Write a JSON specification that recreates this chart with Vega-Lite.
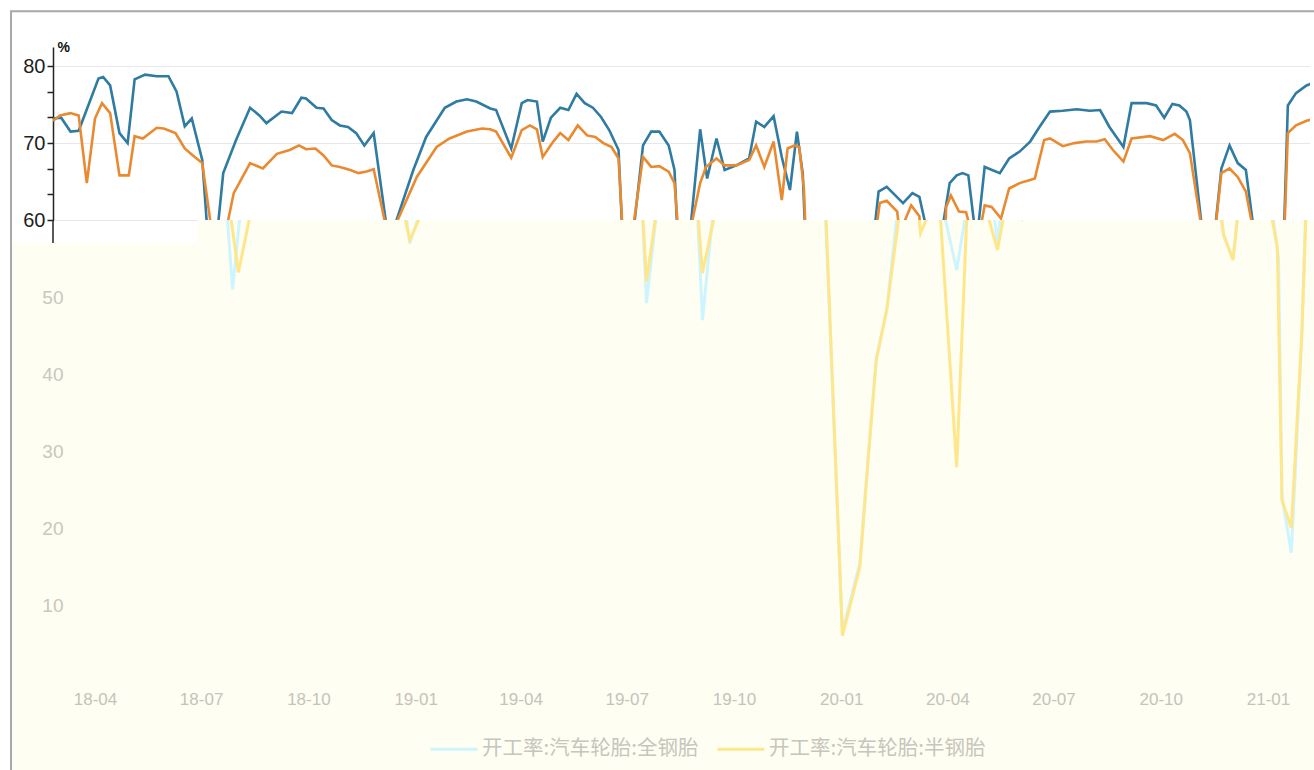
{
  "$schema": "https://vega.github.io/schema/vega-lite/v6.json",
  "background": "white",
  "padding": {"left": 10, "top": 10, "right": 0, "bottom": 0},
  "bounds": "flush",
  "spacing": 0,
  "config": {"view": {"stroke": null}, "font": "Liberation Sans"},
  "data": {"values": [
    {"d":"2018-03-14","s":"全钢胎","v":73.2},{"d":"2018-03-21","s":"全钢胎","v":73.3},{"d":"2018-03-29","s":"全钢胎","v":71.5},{"d":"2018-04-05","s":"全钢胎","v":71.6},{"d":"2018-04-10","s":"全钢胎","v":73.6},{"d":"2018-04-22","s":"全钢胎","v":78.4},{"d":"2018-04-26","s":"全钢胎","v":78.6},{"d":"2018-05-02","s":"全钢胎","v":77.5},{"d":"2018-05-10","s":"全钢胎","v":71.3},{"d":"2018-05-17","s":"全钢胎","v":70.0},{"d":"2018-05-23","s":"全钢胎","v":78.3},{"d":"2018-06-01","s":"全钢胎","v":78.9},{"d":"2018-06-11","s":"全钢胎","v":78.7},{"d":"2018-06-21","s":"全钢胎","v":78.7},{"d":"2018-06-28","s":"全钢胎","v":76.7},{"d":"2018-07-05","s":"全钢胎","v":72.2},{"d":"2018-07-11","s":"全钢胎","v":73.2},{"d":"2018-07-20","s":"全钢胎","v":67.8},{"d":"2018-07-28","s":"全钢胎","v":51.0},{"d":"2018-08-07","s":"全钢胎","v":66.1},{"d":"2018-08-18","s":"全钢胎","v":70.4},{"d":"2018-08-30","s":"全钢胎","v":74.6},{"d":"2018-09-07","s":"全钢胎","v":73.6},{"d":"2018-09-13","s":"全钢胎","v":72.6},{"d":"2018-09-26","s":"全钢胎","v":74.1},{"d":"2018-10-05","s":"全钢胎","v":73.9},{"d":"2018-10-13","s":"全钢胎","v":75.9},{"d":"2018-10-17","s":"全钢胎","v":75.8},{"d":"2018-10-26","s":"全钢胎","v":74.6},{"d":"2018-11-01","s":"全钢胎","v":74.5},{"d":"2018-11-08","s":"全钢胎","v":73.0},{"d":"2018-11-15","s":"全钢胎","v":72.3},{"d":"2018-11-22","s":"全钢胎","v":72.1},{"d":"2018-11-29","s":"全钢胎","v":71.3},{"d":"2018-12-06","s":"全钢胎","v":69.7},{"d":"2018-12-14","s":"全钢胎","v":71.3},{"d":"2018-12-27","s":"全钢胎","v":57.0},{"d":"2019-01-17","s":"全钢胎","v":66.5},{"d":"2019-01-28","s":"全钢胎","v":70.8},{"d":"2019-02-13","s":"全钢胎","v":74.6},{"d":"2019-02-23","s":"全钢胎","v":75.4},{"d":"2019-03-04","s":"全钢胎","v":75.7},{"d":"2019-03-12","s":"全钢胎","v":75.4},{"d":"2019-03-24","s":"全钢胎","v":74.5},{"d":"2019-03-29","s":"全钢胎","v":74.3},{"d":"2019-04-11","s":"全钢胎","v":69.3},{"d":"2019-04-20","s":"全钢胎","v":75.2},{"d":"2019-04-25","s":"全钢胎","v":75.6},{"d":"2019-05-03","s":"全钢胎","v":75.4},{"d":"2019-05-08","s":"全钢胎","v":70.2},{"d":"2019-05-15","s":"全钢胎","v":73.3},{"d":"2019-05-23","s":"全钢胎","v":74.6},{"d":"2019-05-30","s":"全钢胎","v":74.3},{"d":"2019-06-06","s":"全钢胎","v":76.4},{"d":"2019-06-13","s":"全钢胎","v":75.2},{"d":"2019-06-20","s":"全钢胎","v":74.6},{"d":"2019-06-27","s":"全钢胎","v":73.4},{"d":"2019-07-04","s":"全钢胎","v":71.7},{"d":"2019-07-12","s":"全钢胎","v":69.1},{"d":"2019-07-18","s":"全钢胎","v":49.2},{"d":"2019-08-02","s":"全钢胎","v":69.7},{"d":"2019-08-09","s":"全钢胎","v":71.5},{"d":"2019-08-16","s":"全钢胎","v":71.5},{"d":"2019-08-24","s":"全钢胎","v":69.7},{"d":"2019-08-29","s":"全钢胎","v":66.5},{"d":"2019-09-04","s":"全钢胎","v":47.0},{"d":"2019-09-20","s":"全钢胎","v":71.8},{"d":"2019-09-26","s":"全钢胎","v":65.4},{"d":"2019-10-04","s":"全钢胎","v":70.6},{"d":"2019-10-11","s":"全钢胎","v":66.5},{"d":"2019-10-21","s":"全钢胎","v":67.1},{"d":"2019-11-01","s":"全钢胎","v":68.0},{"d":"2019-11-07","s":"全钢胎","v":72.8},{"d":"2019-11-14","s":"全钢胎","v":72.1},{"d":"2019-11-22","s":"全钢胎","v":73.5},{"d":"2019-11-29","s":"全钢胎","v":68.2},{"d":"2019-12-06","s":"全钢胎","v":63.9},{"d":"2019-12-12","s":"全钢胎","v":71.5},{"d":"2019-12-17","s":"全钢胎","v":66.0},{"d":"2020-01-02","s":"全钢胎","v":6.5},{"d":"2020-01-17","s":"全钢胎","v":15.5},{"d":"2020-01-24","s":"全钢胎","v":29.0},{"d":"2020-01-31","s":"全钢胎","v":42.0},{"d":"2020-02-09","s":"全钢胎","v":48.3},{"d":"2020-02-20","s":"全钢胎","v":63.7},{"d":"2020-02-27","s":"全钢胎","v":64.3},{"d":"2020-03-12","s":"全钢胎","v":62.2},{"d":"2020-03-20","s":"全钢胎","v":63.5},{"d":"2020-03-26","s":"全钢胎","v":63.0},{"d":"2020-04-09","s":"全钢胎","v":53.5},{"d":"2020-04-21","s":"全钢胎","v":64.8},{"d":"2020-04-27","s":"全钢胎","v":65.8},{"d":"2020-05-02","s":"全钢胎","v":66.1},{"d":"2020-05-07","s":"全钢胎","v":65.8},{"d":"2020-05-14","s":"全钢胎","v":57.0},{"d":"2020-05-21","s":"全钢胎","v":66.9},{"d":"2020-06-03","s":"全钢胎","v":66.1},{"d":"2020-06-11","s":"全钢胎","v":68.0},{"d":"2020-06-20","s":"全钢胎","v":68.9},{"d":"2020-06-29","s":"全钢胎","v":70.2},{"d":"2020-07-07","s":"全钢胎","v":72.1},{"d":"2020-07-16","s":"全钢胎","v":74.1},{"d":"2020-07-27","s":"全钢胎","v":74.2},{"d":"2020-08-08","s":"全钢胎","v":74.4},{"d":"2020-08-19","s":"全钢胎","v":74.2},{"d":"2020-08-28","s":"全钢胎","v":74.3},{"d":"2020-09-05","s":"全钢胎","v":72.1},{"d":"2020-09-17","s":"全钢胎","v":69.5},{"d":"2020-09-24","s":"全钢胎","v":75.2},{"d":"2020-10-07","s":"全钢胎","v":75.2},{"d":"2020-10-15","s":"全钢胎","v":74.9},{"d":"2020-10-22","s":"全钢胎","v":73.3},{"d":"2020-10-29","s":"全钢胎","v":75.1},{"d":"2020-11-04","s":"全钢胎","v":74.9},{"d":"2020-11-10","s":"全钢胎","v":74.1},{"d":"2020-11-13","s":"全钢胎","v":73.0},{"d":"2020-11-24","s":"全钢胎","v":58.0},{"d":"2020-12-02","s":"全钢胎","v":55.0},{"d":"2020-12-10","s":"全钢胎","v":66.7},{"d":"2020-12-17","s":"全钢胎","v":69.7},{"d":"2020-12-24","s":"全钢胎","v":67.4},{"d":"2020-12-31","s":"全钢胎","v":66.5},{"d":"2021-01-10","s":"全钢胎","v":55.0},{"d":"2021-01-13","s":"全钢胎","v":24.0},{"d":"2021-01-21","s":"全钢胎","v":16.8},{"d":"2021-01-30","s":"全钢胎","v":45.0},{"d":"2021-02-05","s":"全钢胎","v":74.9},{"d":"2021-02-12","s":"全钢胎","v":76.5},{"d":"2021-02-21","s":"全钢胎","v":77.5},{"d":"2021-02-26","s":"全钢胎","v":77.8},
    {"d":"2018-03-14","s":"半钢胎","v":72.9},{"d":"2018-03-20","s":"半钢胎","v":73.6},{"d":"2018-03-29","s":"半钢胎","v":73.9},{"d":"2018-04-05","s":"半钢胎","v":73.6},{"d":"2018-04-12","s":"半钢胎","v":64.8},{"d":"2018-04-19","s":"半钢胎","v":73.2},{"d":"2018-04-25","s":"半钢胎","v":75.2},{"d":"2018-05-02","s":"半钢胎","v":73.9},{"d":"2018-05-10","s":"半钢胎","v":65.8},{"d":"2018-05-18","s":"半钢胎","v":65.8},{"d":"2018-05-23","s":"半钢胎","v":70.9},{"d":"2018-05-30","s":"半钢胎","v":70.6},{"d":"2018-06-11","s":"半钢胎","v":72.0},{"d":"2018-06-17","s":"半钢胎","v":71.9},{"d":"2018-06-27","s":"半钢胎","v":71.3},{"d":"2018-07-05","s":"半钢胎","v":69.3},{"d":"2018-07-12","s":"半钢胎","v":68.4},{"d":"2018-07-20","s":"半钢胎","v":67.4},{"d":"2018-08-02","s":"半钢胎","v":53.2},{"d":"2018-08-16","s":"半钢胎","v":63.5},{"d":"2018-08-30","s":"半钢胎","v":67.4},{"d":"2018-09-10","s":"半钢胎","v":66.7},{"d":"2018-09-22","s":"半钢胎","v":68.6},{"d":"2018-10-03","s":"半钢胎","v":69.1},{"d":"2018-10-11","s":"半钢胎","v":69.7},{"d":"2018-10-17","s":"半钢胎","v":69.2},{"d":"2018-10-25","s":"半钢胎","v":69.3},{"d":"2018-11-01","s":"半钢胎","v":68.4},{"d":"2018-11-08","s":"半钢胎","v":67.1},{"d":"2018-11-15","s":"半钢胎","v":66.9},{"d":"2018-11-24","s":"半钢胎","v":66.5},{"d":"2018-12-01","s":"半钢胎","v":66.1},{"d":"2018-12-08","s":"半钢胎","v":66.3},{"d":"2018-12-14","s":"半钢胎","v":66.6},{"d":"2018-12-27","s":"半钢胎","v":57.4},{"d":"2019-01-20","s":"半钢胎","v":65.6},{"d":"2019-02-06","s":"半钢胎","v":69.5},{"d":"2019-02-17","s":"半钢胎","v":70.6},{"d":"2019-03-04","s":"半钢胎","v":71.5},{"d":"2019-03-17","s":"半钢胎","v":71.9},{"d":"2019-03-24","s":"半钢胎","v":71.8},{"d":"2019-03-29","s":"半钢胎","v":71.5},{"d":"2019-04-11","s":"半钢胎","v":68.1},{"d":"2019-04-20","s":"半钢胎","v":71.7},{"d":"2019-04-27","s":"半钢胎","v":72.3},{"d":"2019-05-03","s":"半钢胎","v":71.8},{"d":"2019-05-08","s":"半钢胎","v":68.2},{"d":"2019-05-17","s":"半钢胎","v":70.2},{"d":"2019-05-23","s":"半钢胎","v":71.3},{"d":"2019-05-30","s":"半钢胎","v":70.4},{"d":"2019-06-07","s":"半钢胎","v":72.3},{"d":"2019-06-15","s":"半钢胎","v":71.0},{"d":"2019-06-22","s":"半钢胎","v":70.8},{"d":"2019-06-29","s":"半钢胎","v":70.0},{"d":"2019-07-06","s":"半钢胎","v":69.5},{"d":"2019-07-12","s":"半钢胎","v":68.0},{"d":"2019-07-18","s":"半钢胎","v":52.0},{"d":"2019-08-02","s":"半钢胎","v":68.2},{"d":"2019-08-09","s":"半钢胎","v":66.9},{"d":"2019-08-16","s":"半钢胎","v":67.0},{"d":"2019-08-24","s":"半钢胎","v":66.3},{"d":"2019-08-29","s":"半钢胎","v":64.8},{"d":"2019-09-04","s":"半钢胎","v":53.1},{"d":"2019-09-20","s":"半钢胎","v":64.8},{"d":"2019-09-25","s":"半钢胎","v":66.9},{"d":"2019-10-04","s":"半钢胎","v":68.0},{"d":"2019-10-11","s":"半钢胎","v":67.1},{"d":"2019-10-21","s":"半钢胎","v":67.1},{"d":"2019-11-01","s":"半钢胎","v":67.8},{"d":"2019-11-07","s":"半钢胎","v":69.7},{"d":"2019-11-14","s":"半钢胎","v":66.9},{"d":"2019-11-22","s":"半钢胎","v":70.2},{"d":"2019-11-29","s":"半钢胎","v":62.6},{"d":"2019-12-04","s":"半钢胎","v":69.3},{"d":"2019-12-10","s":"半钢胎","v":69.7},{"d":"2019-12-14","s":"半钢胎","v":69.5},{"d":"2019-12-18","s":"半钢胎","v":64.0},{"d":"2020-01-02","s":"半钢胎","v":6.0},{"d":"2020-01-17","s":"半钢胎","v":15.0},{"d":"2020-01-24","s":"半钢胎","v":28.8},{"d":"2020-01-31","s":"半钢胎","v":41.8},{"d":"2020-02-09","s":"半钢胎","v":48.3},{"d":"2020-02-21","s":"半钢胎","v":62.2},{"d":"2020-02-27","s":"半钢胎","v":62.5},{"d":"2020-03-07","s":"半钢胎","v":61.1},{"d":"2020-03-09","s":"半钢胎","v":58.3},{"d":"2020-03-19","s":"半钢胎","v":61.9},{"d":"2020-03-26","s":"半钢胎","v":60.5},{"d":"2020-04-09","s":"半钢胎","v":27.9},{"d":"2020-04-18","s":"半钢胎","v":61.7},{"d":"2020-04-22","s":"半钢胎","v":63.2},{"d":"2020-04-29","s":"半钢胎","v":61.1},{"d":"2020-05-05","s":"半钢胎","v":61.0},{"d":"2020-05-14","s":"半钢胎","v":56.1},{"d":"2020-05-21","s":"半钢胎","v":61.9},{"d":"2020-05-27","s":"半钢胎","v":61.7},{"d":"2020-06-04","s":"半钢胎","v":60.2},{"d":"2020-06-11","s":"半钢胎","v":64.1},{"d":"2020-06-20","s":"半钢胎","v":64.8},{"d":"2020-06-29","s":"半钢胎","v":65.2},{"d":"2020-07-03","s":"半钢胎","v":65.4},{"d":"2020-07-11","s":"半钢胎","v":70.4},{"d":"2020-07-16","s":"半钢胎","v":70.6},{"d":"2020-07-27","s":"半钢胎","v":69.6},{"d":"2020-08-06","s":"半钢胎","v":70.0},{"d":"2020-08-16","s":"半钢胎","v":70.2},{"d":"2020-08-25","s":"半钢胎","v":70.2},{"d":"2020-09-01","s":"半钢胎","v":70.5},{"d":"2020-09-08","s":"半钢胎","v":69.1},{"d":"2020-09-17","s":"半钢胎","v":67.6},{"d":"2020-09-24","s":"半钢胎","v":70.6},{"d":"2020-10-10","s":"半钢胎","v":70.9},{"d":"2020-10-21","s":"半钢胎","v":70.4},{"d":"2020-10-31","s":"半钢胎","v":71.2},{"d":"2020-11-07","s":"半钢胎","v":70.4},{"d":"2020-11-13","s":"半钢胎","v":68.7},{"d":"2020-11-24","s":"半钢胎","v":58.0},{"d":"2020-12-02","s":"半钢胎","v":54.8},{"d":"2020-12-10","s":"半钢胎","v":66.1},{"d":"2020-12-17","s":"半钢胎","v":66.7},{"d":"2020-12-24","s":"半钢胎","v":65.6},{"d":"2020-12-31","s":"半钢胎","v":63.7},{"d":"2021-01-09","s":"半钢胎","v":56.5},{"d":"2021-01-13","s":"半钢胎","v":23.6},{"d":"2021-01-21","s":"半钢胎","v":20.0},{"d":"2021-01-30","s":"半钢胎","v":45.3},{"d":"2021-02-05","s":"半钢胎","v":71.3},{"d":"2021-02-12","s":"半钢胎","v":72.3},{"d":"2021-02-21","s":"半钢胎","v":72.9},{"d":"2021-02-26","s":"半钢胎","v":73.1}
  ]},
  "vconcat": [
    {
      "width": 1257,
      "height": 173,
      "mark": {"type": "line", "clip": true, "strokeWidth": 2.6},
      "encoding": {
        "x": {"field": "d", "type": "temporal", "scale": {"domain": [{"year": 2018, "month": 3, "date": 14}, {"year": 2021, "month": 2, "date": 24}]}, "axis": null},
        "y": {"field": "v", "type": "quantitative", "scale": {"domain": [60, 82.5], "nice": false, "zero": false},
          "axis": {
            "values": [60, 63.333, 66.667, 70, 73.333, 76.667, 80],
            "labelExpr": "datum.value % 10 === 0 ? datum.label : ''",
            "labelFontSize": 20, "labelColor": "#1e1e1e", "labelPadding": 2,
            "domainColor": "#222222", "domainWidth": 1.5,
            "tickColor": "#222222", "tickSize": 6, "tickWidth": 1.5,
            "grid": true, "gridColor": "#e8e8e8",
            "gridOpacity": {"condition": {"test": "datum.value % 10 === 0", "value": 1}, "value": 0},
            "title": "%", "titleAngle": 0, "titleFontSize": 14, "titleFontWeight": "bold", "titleColor": "#111111",
            "titleAlign": "left", "titleBaseline": "bottom", "titleX": 4, "titleY": 7
          }},
        "color": {"field": "s", "type": "nominal", "scale": {"domain": ["全钢胎", "半钢胎"], "range": ["#2f7ba2", "#ea8a30"]}, "legend": null}
      }
    },
    {
      "width": 1257,
      "height": 462,
      "layer": [
        {
          "data": {"values": [{}]},
          "mark": {"type": "rect", "color": "#fefef3"},
          "encoding": {
            "x": {"datum": {"year": 2018, "month": 1, "date": 21}, "type": "temporal"},
            "x2": {"datum": {"year": 2018, "month": 6, "date": 29}},
            "y": {"datum": 57.0, "type": "quantitative"},
            "y2": {"datum": -15}
          }
        },
        {
          "data": {"values": [{}]},
          "mark": {"type": "rect", "color": "#fefef3"},
          "encoding": {
            "x": {"datum": {"year": 2018, "month": 6, "date": 28}, "type": "temporal"},
            "x2": {"datum": {"year": 2021, "month": 12, "date": 31}},
            "y": {"datum": 60, "type": "quantitative"},
            "y2": {"datum": -15}
          }
        },
        {
          "data": {"values": [{}]},
          "mark": {"type": "rect", "filled": false, "stroke": "#a8a8a8", "strokeWidth": 2},
          "encoding": {
            "x": {"datum": {"year": 2018, "month": 1, "date": 19}, "type": "temporal"},
            "x2": {"datum": {"year": 2022, "month": 6, "date": 1}},
            "y": {"datum": 87.1, "type": "quantitative"},
            "y2": {"datum": -25}
          }
        },
        {
          "data": {"values": [{}]},
          "mark": {"type": "rule", "color": "#222222", "strokeWidth": 1.5},
          "encoding": {
            "x": {"datum": {"year": 2018, "month": 2, "date": 24}, "type": "temporal"},
            "y": {"datum": 60, "type": "quantitative"},
            "y2": {"datum": 57.0}
          }
        },
        {
          "mark": {"type": "line", "clip": true, "strokeWidth": 3},
          "encoding": {
            "x": {"field": "d", "type": "temporal",
              "scale": {"domain": [{"year": 2018, "month": 2, "date": 24}, {"year": 2021, "month": 2, "date": 6}]},
              "axis": {
                "values": [{"year": 2018, "month": 4, "date": 1}, {"year": 2018, "month": 7, "date": 1}, {"year": 2018, "month": 10, "date": 1}, {"year": 2019, "month": 1, "date": 1}, {"year": 2019, "month": 4, "date": 1}, {"year": 2019, "month": 7, "date": 1}, {"year": 2019, "month": 10, "date": 1}, {"year": 2020, "month": 1, "date": 1}, {"year": 2020, "month": 4, "date": 1}, {"year": 2020, "month": 7, "date": 1}, {"year": 2020, "month": 10, "date": 1}, {"year": 2021, "month": 1, "date": 1}],
                "format": "%y-%m", "domain": false, "ticks": false, "grid": false,
                "labelFontSize": 17, "labelColor": "#c4c4ba", "labelPadding": 9, "title": null, "zindex": 1
              }},
            "y": {"field": "v", "type": "quantitative", "scale": {"domain": [0, 60], "nice": false, "zero": false},
              "axis": {"values": [10, 20, 30, 40, 50], "domain": false, "ticks": false, "grid": false, "offset": -21,
                "labelPadding": 11, "labelFontSize": 19, "labelColor": "#c8c8bc", "title": null, "zindex": 1}},
            "color": {"field": "s", "type": "nominal",
              "scale": {"domain": ["全钢胎", "半钢胎"], "range": ["#cdf4ff", "#ffe68a"]},
              "legend": {
                "orient": "none", "legendX": 376, "legendY": 504, "direction": "horizontal", "title": null,
                "labelExpr": "'开工率:汽车轮胎:' + datum.label", "labelLimit": 0,
                "symbolType": "stroke", "symbolSize": 2200, "symbolStrokeWidth": 3,
                "labelFont": "Noto Sans CJK SC", "labelFontSize": 20.5, "labelColor": "#c6c6bc",
                "labelOffset": 3, "columnPadding": 12
              }}
          }
        }
      ]
    }
  ],
  "resolve": {"scale": {"x": "independent", "y": "independent", "color": "independent"}}
}
